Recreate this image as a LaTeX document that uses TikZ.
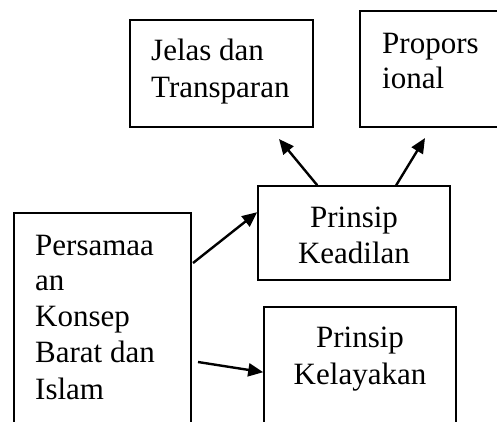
\documentclass[tikz,border=0pt]{standalone}
\usepackage{fontspec}
\setmainfont{Liberation Serif}
\usetikzlibrary{arrows.meta,fit}
\begin{document}
\begin{tikzpicture}[x=1pt,y=-1pt,
  box/.style={draw=black,line width=1.6pt,inner sep=0pt},
  txt/.style={inner sep=0pt,font=\fontsize{31}{36.5}\selectfont},
  arr/.style={line width=2.4pt,-{Triangle[length=15pt,width=13pt]}}]
\useasboundingbox (0,0) rectangle (497,421);
\begin{scope}
\clip (0,0) rectangle (497,421);
\node[box,fit={(130,20) (313,127)}] (jel) {};
\node[box,fit={(360,11) (510,127)}] (pro) {};
\node[box,fit={(258,186) (450,280)}] (kea) {};
\node[box,fit={(14,213) (191,440)}] (per) {};
\node[box,fit={(264,307) (456,440)}] (kel) {};
\end{scope}
% texts
\node[txt,anchor=base west] (j1) at (151,60) {Jelas dan};
\node[txt,anchor=base west] (j2) at (151,97) {Transparan};
\node[txt,anchor=base west] (p1) at (382,53) {Propors};
\node[txt,anchor=base west] (p2) at (382,88) {ional};
\node[txt,anchor=base] (k1) at (354,227) {Prinsip};
\node[txt,anchor=base] (k2) at (354,263) {Keadilan};
\node[txt,anchor=base west] (s1) at (35,255) {Persamaa};
\node[txt,anchor=base west] (s2) at (35,290) {an};
\node[txt,anchor=base west] (s3) at (35,326) {Konsep};
\node[txt,anchor=base west] (s4) at (35,362) {Barat dan};
\node[txt,anchor=base west] (s5) at (35,399) {Islam};
\node[txt,anchor=base] (l1) at (360,347) {Prinsip};
\node[txt,anchor=base] (l2) at (360,384) {Kelayakan};
% connectors
\coordinate (e1) at (279,139);
\coordinate (e2) at (425,138);
\coordinate (s3a) at (193,263);
\coordinate (s4a) at (198,362);
\draw[arr] ([xshift=60pt]kea.north west) -- (e1);
\draw[arr] ([xshift=139pt]kea.north west) -- (e2);
\draw[arr] (s3a) -- ([yshift=-27pt]kea.north west);
\draw[arr] (s4a) -- ([yshift=-66pt]kel.north west);
\end{tikzpicture}
\end{document}
